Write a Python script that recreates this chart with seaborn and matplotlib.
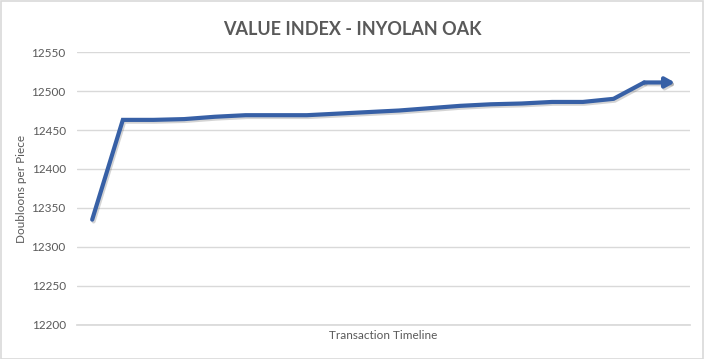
import numpy as np
import pandas as pd
import seaborn as sns
import matplotlib.pyplot as plt
import matplotlib.patheffects as pe
from matplotlib.patches import Rectangle

# values
steps = list(range(20))
values = [12335, 12463, 12463, 12464, 12467, 12469, 12469, 12469, 12471, 12473,
          12475, 12478, 12481, 12483, 12484, 12486, 12486, 12490, 12511, 12511]
y_ticks = [12200, 12250, 12300, 12350, 12400, 12450, 12500, 12550]

title = 'VALUE INDEX - INYOLAN OAK'
x_label = 'Transaction Timeline'
y_label = 'Doubloons per Piece'

sns.set_theme(style='white')
plt.rcParams['font.family'] = ['Lato', 'DejaVu Sans']

df = pd.DataFrame({'step': steps, 'value': values})

fig = plt.figure(figsize=(7.05, 3.59), dpi=100)
ax = fig.add_axes([0.109, 0.095, 0.870, 0.760])

line_col = '#3760A6'
shadow = [pe.SimpleLineShadow(offset=(1, -1.3), shadow_color='#555555', alpha=0.25),
          pe.Normal()]

# draw all but the last segment as the line, the last one as an arrow
sns.lineplot(data=df.iloc[:-1], x='step', y='value', ax=ax, color=line_col,
             linewidth=3, path_effects=shadow)
ax.lines[0].set_solid_joinstyle('miter')
ax.annotate('', xy=(steps[-1], values[-1]), xytext=(steps[-2], values[-2]),
            arrowprops=dict(arrowstyle='-|>,head_length=0.45,head_width=0.25',
                            color=line_col, lw=3, shrinkA=0, shrinkB=0,
                            path_effects=shadow))

ax.set_xlim(-0.5, len(steps) - 0.5)
ax.set_ylim(y_ticks[0], y_ticks[-1])
ax.set_yticks(y_ticks)
ax.set_xticks([])
ax.yaxis.grid(True, color='#D9D9D9', linewidth=1)
ax.tick_params(axis='y', length=0, labelsize=8.5, labelcolor='#595959', pad=8)
for s in ['top', 'right', 'left']:
    ax.spines[s].set_visible(False)
ax.spines['bottom'].set_color('#D9D9D9')

ax.set_xlabel(x_label, fontsize=8.5, color='#595959', labelpad=4)
ax.set_ylabel(y_label, fontsize=8.5, color='#595959', labelpad=3)
fig.text(0.5, 0.918, title, ha='center', va='center', fontsize=13,
         fontweight='bold', color='#595959')

fig.patches.append(Rectangle((0.001, 0.001), 0.996, 0.996, transform=fig.transFigure,
                             fill=False, edgecolor='#D9D9D9', linewidth=1.2))

fig.savefig('out.png', dpi=100)
